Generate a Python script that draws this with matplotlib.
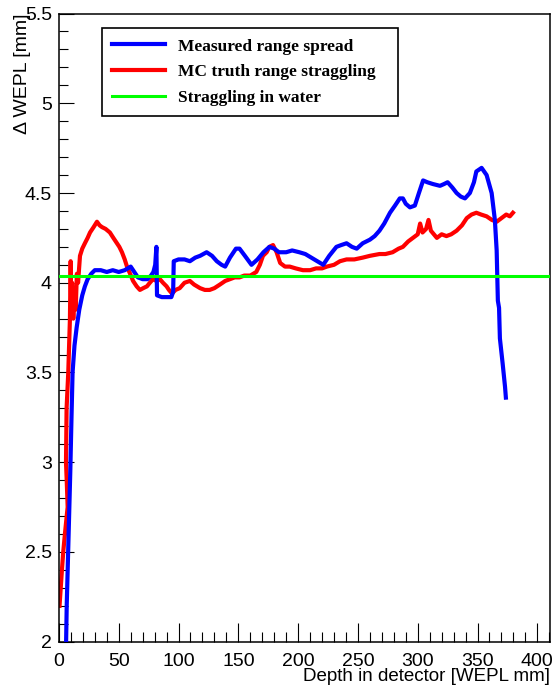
import numpy as np
import matplotlib
matplotlib.use('Agg')
import matplotlib.pyplot as plt
from matplotlib.ticker import MultipleLocator

plt.rcParams['font.family'] = 'Liberation Sans'

# measured range spread (blue)
meas_x = [5.5, 6.0, 6.5, 7.5, 8.5, 9.5, 10.5, 11.4, 13.0, 14.8, 17.0, 19.5, 21.7, 24.0,
          27.0, 30.0, 35.0, 40.0, 45.0, 50.0, 55.0, 60.0, 63.0, 66.0, 70.0, 74.0, 77.0,
          79.0, 80.5, 81.5, 82.0, 86.0, 90.0, 94.0, 95.5, 96.0, 100.0, 105.0, 109.5,
          114.0, 118.0, 123.5, 128.0, 132.0, 136.0, 139.0, 143.0, 148.0, 151.0, 155.5,
          161.0, 166.0, 171.0, 176.0, 180.0, 184.0, 190.0, 195.0, 201.0, 206.0, 211.0,
          216.0, 221.0, 226.0, 232.0, 236.0, 240.5, 245.0, 249.0, 254.0, 260.0, 264.0,
          268.0, 272.0, 276.8, 281.0, 285.0, 287.6, 290.0, 293.5, 297.6, 301.0, 304.5,
          308.0, 312.7, 318.6, 322.0, 325.0, 329.0, 332.5, 336.0, 339.5, 343.6, 347.0,
          349.0, 353.4, 357.6, 361.8, 364.5, 366.0, 367.0, 368.0, 368.7, 371.0, 373.0,
          373.7]
meas_y = [1.90, 2.00, 2.20, 2.45, 2.70, 2.95, 3.25, 3.50, 3.65, 3.75, 3.85, 3.93, 3.98, 4.02,
          4.05, 4.07, 4.07, 4.06, 4.07, 4.06, 4.07, 4.09, 4.06, 4.03, 4.02, 4.02, 4.04,
          4.06, 4.10, 4.20, 3.93, 3.92, 3.92, 3.92, 3.95, 4.12, 4.13, 4.13, 4.12,
          4.14, 4.15, 4.17, 4.15, 4.12, 4.10, 4.09, 4.14, 4.19, 4.19, 4.15,
          4.10, 4.13, 4.17, 4.20, 4.19, 4.17, 4.17, 4.18, 4.17, 4.16, 4.14,
          4.12, 4.10, 4.15, 4.20, 4.21, 4.22, 4.20, 4.19, 4.22, 4.24, 4.26,
          4.29, 4.33, 4.39, 4.43, 4.47, 4.47, 4.44, 4.42, 4.43, 4.50, 4.57,
          4.56, 4.55, 4.54, 4.55, 4.56, 4.53, 4.50, 4.48, 4.47, 4.50, 4.56,
          4.62, 4.64, 4.60, 4.50, 4.35, 4.18, 3.90, 3.86, 3.69, 3.55, 3.42,
          3.36]

# MC truth range straggling (red)
mc_x = [0.5, 1.5, 2.5, 3.6, 5.0, 6.5, 7.3, 6.5, 5.9, 6.4, 7.8, 8.5, 9.2, 9.8, 10.3, 11.0,
        12.0, 13.0, 14.0, 15.0, 16.0, 17.6, 19.5, 21.7, 24.0, 26.0, 29.0, 31.8, 34.0,
        36.0, 39.0, 42.6, 45.5, 48.5, 50.5, 52.7, 55.0, 56.9, 59.5, 62.0, 65.0, 67.7,
        70.5, 73.6, 76.0, 78.6, 81.5, 84.4, 87.0, 90.0, 92.0, 94.5, 97.5, 101.0, 105.0,
        109.5, 113.0, 118.0, 122.0, 126.0, 130.0, 134.6, 139.0, 143.0, 147.0, 151.0,
        155.0, 160.0, 165.0, 168.0, 170.6, 173.7, 176.0, 179.0, 182.0, 185.0, 189.0,
        193.0, 198.0, 204.0, 210.0, 215.0, 220.0, 224.0, 230.0, 235.0, 240.5, 247.0,
        254.0, 260.0, 268.0, 273.0, 279.0, 284.0, 287.6, 292.0, 296.0, 300.0, 302.0,
        304.0, 307.0, 309.0, 311.0, 316.0, 320.0, 324.0, 328.0, 332.5, 337.0, 341.0,
        345.0, 349.0, 353.0, 357.6, 362.0, 366.0, 370.0, 374.0, 377.0, 379.6]
mc_y = [2.20, 2.30, 2.40, 2.50, 2.60, 2.70, 2.75, 2.90, 3.00, 3.30, 3.50, 3.65, 3.80, 4.12, 3.85, 4.00,
        3.80, 3.95, 3.85, 4.05, 4.00, 4.15, 4.19, 4.22, 4.25, 4.28, 4.31, 4.34, 4.32,
        4.31, 4.30, 4.28, 4.25, 4.22, 4.20, 4.17, 4.13, 4.09, 4.05, 4.01, 3.98, 3.96,
        3.97, 3.98, 4.00, 4.02, 4.01, 4.02, 4.00, 3.98, 3.96, 3.94, 3.96, 3.97, 4.00,
        4.01, 3.99, 3.97, 3.96, 3.96, 3.97, 3.99, 4.01, 4.02, 4.03, 4.03,
        4.04, 4.04, 4.06, 4.10, 4.15, 4.17, 4.20, 4.21, 4.17, 4.11, 4.09,
        4.09, 4.08, 4.07, 4.07, 4.08, 4.08, 4.09, 4.10, 4.12, 4.13, 4.13,
        4.14, 4.15, 4.16, 4.16, 4.17, 4.19, 4.20, 4.23, 4.25, 4.27, 4.33,
        4.28, 4.30, 4.35, 4.29, 4.25, 4.27, 4.26, 4.27, 4.29, 4.32, 4.36,
        4.38, 4.39, 4.38, 4.37, 4.35, 4.34, 4.36, 4.38, 4.37, 4.39]

# straggling in water (constant)
water_level = 4.04

labels = ['Measured range spread', 'MC truth range straggling', 'Straggling in water']

fig = plt.figure(figsize=(5.56, 6.97), dpi=100)
ax = fig.add_axes([0.106, 0.0793, 0.883, 0.9013])

ax.plot(meas_x, meas_y, color='#0000ff', lw=3.0, label=labels[0], zorder=3)
ax.plot(mc_x, mc_y, color='#ff0000', lw=3.0, label=labels[1], zorder=2)
ax.axhline(water_level, color='#00ff00', lw=2.2, label=labels[2], zorder=4)

ax.set_xlim(0, 410.5)
ax.set_ylim(2, 5.5)
ax.xaxis.set_major_locator(MultipleLocator(50))
ax.xaxis.set_minor_locator(MultipleLocator(10))
ax.yaxis.set_major_locator(MultipleLocator(0.5))
ax.yaxis.set_minor_locator(MultipleLocator(0.1))
ax.yaxis.set_major_formatter(matplotlib.ticker.FuncFormatter(lambda v, p: f'{v:g}'))

ax.tick_params(axis='both', which='both', direction='in', top=False, right=False,
               labelsize=14, width=0.8, color='black')
ax.tick_params(axis='x', which='major', length=13.5, pad=8)
ax.tick_params(axis='x', which='minor', length=7)
ax.tick_params(axis='y', which='major', length=11, pad=5)
ax.tick_params(axis='y', which='minor', length=6.5)
for s in ax.spines.values():
    s.set_linewidth(1.1)

ax.set_xlabel('Depth in detector [WEPL mm]', fontsize=13.5, loc='right')
ax.set_ylabel('Δ WEPL [mm]', fontsize=14, loc='top')
ax.xaxis.set_label_coords(1.0, -0.042)
ax.yaxis.set_label_coords(-0.056, 1.0)

leg = ax.legend(loc='upper left', bbox_to_anchor=(102 / 556, 1 - 115 / 697, 296 / 556, 87 / 697),
                bbox_transform=fig.transFigure, mode='expand', borderaxespad=0,
                prop={'family': 'Liberation Serif', 'weight': 'bold', 'size': 12.5},
                handlelength=3.0, handletextpad=0.75, borderpad=0.6, labelspacing=0.55,
                fancybox=False, framealpha=1, edgecolor='black')
leg.get_frame().set_linewidth(1.2)

fig.savefig('out.png', dpi=100)
